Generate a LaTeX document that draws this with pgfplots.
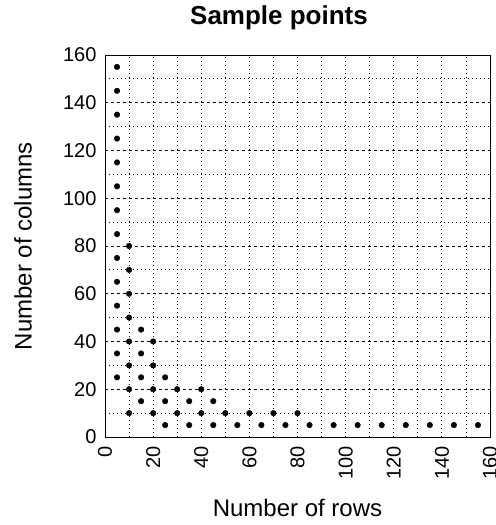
\documentclass[border=0pt]{standalone}
\usepackage{fontspec}
\setmainfont{Liberation Sans}
\usepackage{pgfplots}
\pgfplotsset{compat=1.18}
\begin{document}
\begin{tikzpicture}
\begin{axis}[
  name=ax,
  scale only axis,
  width=385bp, height=382bp,
  xmin=0, xmax=160, ymin=0, ymax=160,
  xtick={0,20,...,160}, ytick={0,20,...,160},
  minor xtick={10,30,...,150}, minor ytick={10,30,...,150},
  tick style={draw=none},
  grid=both,
  major x grid style={black, line width=0.8pt, dash pattern=on 1pt off 3pt},
  minor x grid style={black, line width=0.8pt, dash pattern=on 1pt off 3pt},
  major y grid style={black, line width=0.8pt, dash pattern=on 3pt off 3pt},
  minor y grid style={black, line width=0.8pt, dash pattern=on 1pt off 3pt},
  axis line style={black, line width=0.9pt},
  /pgf/number format/assume math mode=true,
  ticklabel style={font=\fontsize{20bp}{22bp}\selectfont},
  xticklabel style={rotate=90, anchor=east},
  xticklabel shift=6bp,
  yticklabel shift=5bp,
  title={Sample points},
  title style={font=\fontsize{26bp}{29bp}\selectfont\bfseries, at={(axis description cs:0.452,1)}, anchor=center, yshift=31bp},
  xlabel={Number of rows},
  ylabel={Number of columns},
  xlabel style={font=\fontsize{24bp}{27bp}\selectfont, at={(axis description cs:0.5,0)}, anchor=center, yshift=-71bp},
  ylabel style={font=\fontsize{24bp}{27bp}\selectfont, at={(axis description cs:0,0.5)}, anchor=center, yshift=82bp},
]
\addplot[only marks, mark=*, mark size=2.8bp, black] coordinates {
(5,25)(5,35)(5,45)(5,55)(5,65)(5,75)(5,85)(5,95)(5,105)(5,115)(5,125)(5,135)(5,145)(5,155)
(10,10)(10,20)(10,30)(10,40)(10,50)(10,60)(10,70)(10,80)
(15,15)(15,25)(15,35)(15,45)
(20,10)(20,20)(20,30)(20,40)
(25,5)(25,15)(25,25)
(30,10)(30,20)
(35,5)(35,15)
(40,10)(40,20)
(45,5)(45,15)
(50,10)(60,10)(70,10)(80,10)
(55,5)(65,5)(75,5)(85,5)(95,5)(105,5)(115,5)(125,5)(135,5)(145,5)(155,5)
};
\end{axis}
\pgfresetboundingbox
\path ([shift={(-105bp,-88bp)}]ax.south west) rectangle ([shift={(6bp,55bp)}]ax.north east);
\end{tikzpicture}
\end{document}
